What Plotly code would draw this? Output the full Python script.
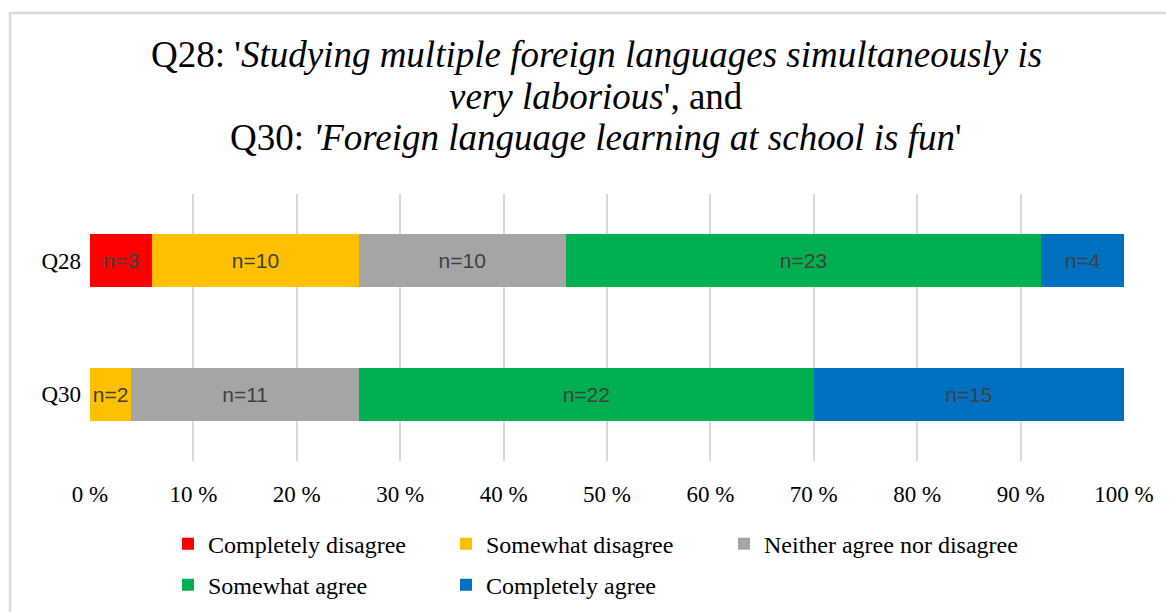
import plotly.graph_objects as go

categories = ["Q28", "Q30"]
series_names = ["Completely disagree", "Somewhat disagree", "Neither agree nor disagree",
                "Somewhat agree", "Completely agree"]
completely_disagree = [3, 0]
somewhat_disagree = [10, 2]
neither = [10, 11]
somewhat_agree = [23, 22]
completely_agree = [4, 15]
series_values = [completely_disagree, somewhat_disagree, neither, somewhat_agree, completely_agree]
colors = ["#FF0000", "#FFC000", "#A5A5A5", "#00B050", "#0070C0"]
tick_vals = [0, 10, 20, 30, 40, 50, 60, 70, 80, 90, 100]
tick_text = ["0 %", "10 %", "20 %", "30 %", "40 %", "50 %", "60 %", "70 %", "80 %", "90 %", "100 %"]
title_lines = [
    "Q28: '<i>Studying multiple foreign languages simultaneously is</i>",
    "<i>very laborious</i>', and",
    "Q30: <i>'Foreign language learning at school is fun</i>'",
]

totals = [sum(v[i] for v in series_values) for i in range(len(categories))]

W, H = 1174, 612
OFF = 8  # page offset of the figure (body margin)
PX0, PX1, PY0, PY1 = 90, 1124, 194, 467  # plot area in page pixels
L = PX0 - OFF
R = W - (PX1 - OFF)
T = PY0 - OFF
B = H - (PY1 - OFF)


def px_x(p):
    return (p - PX0) / (PX1 - PX0)


def px_y(p):
    return 1 - (p - PY0) / (PY1 - PY0)


# legend slot per series: (left x, row centre y) in page pixels
legend_slots = [(168, 552), (446, 552), (724, 552), (168, 594), (446, 594)]
legend_ids = ["legend", "legend2", "legend3", "legend4", "legend5"]

fig = go.Figure()
for idx, (name, vals, col) in enumerate(zip(series_names, series_values, colors)):
    pct = [100.0 * v / t for v, t in zip(vals, totals)]
    txt = [f"n={v}" if v > 0 else "" for v in vals]
    fig.add_trace(go.Bar(
        y=categories, x=pct, orientation="h", name=name,
        marker=dict(color=col, line=dict(width=0)),
        text=txt, textposition="inside", insidetextanchor="middle",
        constraintext="none", textangle=0,
        textfont=dict(family="Liberation Sans", size=21, color="#404040"),
        legend=legend_ids[idx],
        hoverinfo="skip",
    ))

legend_layout = {}
for lid, (lx, ly) in zip(legend_ids, legend_slots):
    legend_layout[lid] = dict(
        orientation="h", xref="paper", yref="paper", xanchor="left", yanchor="middle",
        x=px_x(lx), y=px_y(ly),
        font=dict(family="Liberation Serif", size=24, color="black"),
        itemwidth=30, bgcolor="rgba(0,0,0,0)",
    )

title_baselines = [63, 106, 148]
annotations = []
for line, base in zip(title_lines, title_baselines):
    annotations.append(dict(
        text=line, xref="paper", yref="paper",
        x=px_x(596), y=px_y(base - 12), xanchor="center", yanchor="middle",
        showarrow=False,
        font=dict(family="Liberation Serif", size=37, color="black"),
    ))

fig.update_layout(
    width=W, height=H,
    margin=dict(l=L, r=R, t=T, b=B),
    paper_bgcolor="white", plot_bgcolor="white",
    barmode="stack", bargap=0.6,
    showlegend=True,
    annotations=annotations,
    xaxis=dict(
        range=[0, 100], tickmode="array", tickvals=tick_vals, ticktext=tick_text,
        showgrid=True, gridcolor="#D9D9D9", gridwidth=1.5,
        zeroline=False, showline=False, ticks="",
        ticklabelstandoff=17,
        tickfont=dict(family="Liberation Serif", size=23, color="black"),
        fixedrange=True,
    ),
    yaxis=dict(
        autorange="reversed", showgrid=False, zeroline=False, showline=False,
        ticks="", ticklabelstandoff=8,
        tickfont=dict(family="Liberation Serif", size=23, color="black"),
        fixedrange=True,
    ),
    shapes=[dict(
        type="rect", xref="paper", yref="paper",
        x0=px_x(10), x1=px_x(1200), y0=px_y(640), y1=px_y(9),
        line=dict(color="#D9D9D9", width=2.5), fillcolor="rgba(0,0,0,0)", layer="below",
    )],
    **legend_layout,
)

fig.write_html("out.html")
